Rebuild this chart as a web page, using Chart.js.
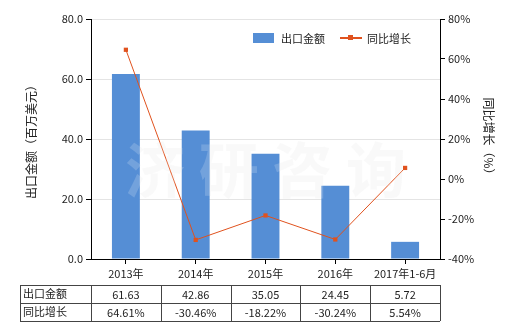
<!DOCTYPE html>
<html><head><meta charset="utf-8">
<script src="https://cdn.jsdelivr.net/npm/chart.js@4/dist/chart.umd.min.js"></script>
<style>html,body{margin:0;padding:0;background:#fff}#wrap{width:520px;height:330px}</style>
</head><body><div id="wrap"><canvas id="c" width="520" height="330"></canvas></div>
<script>
const categories = ['2013年','2014年','2015年','2016年','2017年1-6月'];
const exportValues = [61.63, 42.86, 35.05, 24.45, 5.72];
const growthValues = [64.61, -30.46, -18.22, -30.24, 5.54];
const exportLabels = ['61.63','42.86','35.05','24.45','5.72'];
const growthLabels = ['64.61%','-30.46%','-18.22%','-30.24%','5.54%'];
const seriesNames = ['出口金额','同比增长'];
const FONT = '"Microsoft YaHei","Noto Sans CJK SC",sans-serif';
const BLUE = '#558ED5', ORANGE = '#E0521E';

const extras = {
  id: 'extras',
  beforeDatasetsDraw(chart) {
    const ctx = chart.ctx, a = chart.chartArea;
    ctx.save();
    ctx.font = 'bold 60px ' + FONT;
    ctx.fillStyle = 'rgba(200,200,200,0.12)';
    ctx.textAlign = 'center'; ctx.textBaseline = 'middle';
    ctx.fillText('济 研 咨 询', (a.left + a.right) / 2, 170);
    ctx.restore();
  },
  afterDraw(chart) {
    const ctx = chart.ctx, x = chart.scales.x;
    ctx.save();
    // watermark over bars
    ctx.font = 'bold 60px ' + FONT;
    ctx.fillStyle = 'rgba(255,255,255,0.18)';
    ctx.textAlign = 'center'; ctx.textBaseline = 'middle';
    const a = chart.chartArea;
    ctx.fillText('济 研 咨 询', (a.left + a.right) / 2, 170);
    // legend
    ctx.font = '11px ' + FONT;
    ctx.textAlign = 'left';
    ctx.fillStyle = BLUE;
    ctx.fillRect(253, 33, 21, 10);
    ctx.fillStyle = '#222';
    ctx.fillText(seriesNames[0], 281, 38.5);
    ctx.strokeStyle = ORANGE; ctx.lineWidth = 2;
    ctx.beginPath(); ctx.moveTo(340, 38); ctx.lineTo(362, 38); ctx.stroke();
    ctx.fillStyle = ORANGE; ctx.fillRect(348, 35, 5, 5);
    ctx.fillStyle = '#222';
    ctx.fillText(seriesNames[1], 367, 38.5);
    // table
    const half = (x.getPixelForValue(1) - x.getPixelForValue(0)) / 2;
    const top = 285, rh = 18, left = 20;
    const bounds = [left];
    categories.forEach((c, i) => bounds.push(x.getPixelForValue(i) + half));
    bounds[1] = x.getPixelForValue(0) - half;
    const bset = [left, x.getPixelForValue(0) - half];
    categories.forEach((c, i) => bset.push(x.getPixelForValue(i) + half));
    const right = bset[bset.length - 1];
    ctx.strokeStyle = '#444'; ctx.lineWidth = 1;
    ctx.beginPath();
    for (let r = 0; r <= 2; r++) { const y = Math.round(top + r * rh) + 0.5; ctx.moveTo(left, y); ctx.lineTo(right, y); }
    bset.forEach(bx => { const xx = Math.round(bx) + 0.5; ctx.moveTo(xx, top); ctx.lineTo(xx, top + 2 * rh); });
    ctx.stroke();
    ctx.fillStyle = '#222';
    ctx.font = '11px ' + FONT;
    ctx.textBaseline = 'middle';
    ctx.textAlign = 'left';
    ctx.fillText(seriesNames[0], left + 3, top + rh / 2);
    ctx.fillText(seriesNames[1], left + 3, top + rh * 1.5);
    ctx.textAlign = 'center';
    categories.forEach((c, i) => {
      const cx = x.getPixelForValue(i);
      ctx.fillText(exportLabels[i], cx, top + rh / 2 + 1);
      ctx.fillText(growthLabels[i], cx, top + rh * 1.5 + 1);
    });
    ctx.restore();
  }
};

new Chart(document.getElementById('c'), {
  data: {
    labels: categories,
    datasets: [
      { type: 'line', label: seriesNames[1], data: growthValues, yAxisID: 'y1', order: 0,
        borderColor: ORANGE, backgroundColor: ORANGE, borderWidth: 1,
        pointStyle: 'rect', pointRadius: 3, pointBorderWidth: 0, tension: 0 },
      { type: 'bar', label: seriesNames[0], data: exportValues, yAxisID: 'y', order: 1,
        backgroundColor: BLUE, barPercentage: 0.4, categoryPercentage: 1 }
    ]
  },
  options: {
    responsive: false, animation: false, devicePixelRatio: 1,
    layout: { padding: { left: 20, right: 20, top: 19, bottom: 50 } },
    plugins: { legend: { display: false }, tooltip: { enabled: false } },
    scales: {
      x: {
        offset: true,
        grid: { offset: false, drawOnChartArea: false, color: '#000', tickLength: 5, tickColor: '#000' },
        border: { color: '#000', width: 1 },
        ticks: { color: '#222', font: { family: FONT, size: 11 }, padding: 3, maxRotation: 0, autoSkip: false },
        afterFit(s) { s.height = 21; }
      },
      y: {
        position: 'left', min: 0, max: 80,
        ticks: { stepSize: 20, color: '#222', font: { family: FONT, size: 11 }, padding: 3,
          callback: v => Number(v).toFixed(1) },
        grid: { color: '#e4e4e4', tickColor: '#000', tickLength: 5 },
        border: { color: '#000', width: 1 },
        title: { display: true, text: '出口金额（百万美元）', color: '#222', font: { family: FONT, size: 12 }, padding: { top: 4, bottom: 4 } },
        afterFit(s) { s.width = 71; }
      },
      y1: {
        position: 'right', min: -40, max: 80,
        ticks: { stepSize: 20, color: '#222', font: { family: FONT, size: 11 }, padding: 3,
          callback: v => v + '%' },
        grid: { drawOnChartArea: false, tickColor: '#000', tickLength: 5 },
        border: { color: '#000', width: 1 },
        title: { display: true, text: '同比增长（%）', color: '#222', font: { family: FONT, size: 12 }, padding: { top: 4, bottom: 4 } },
        afterFit(s) { s.width = 60; }
      }
    }
  },
  plugins: [extras]
});
</script></body></html>
